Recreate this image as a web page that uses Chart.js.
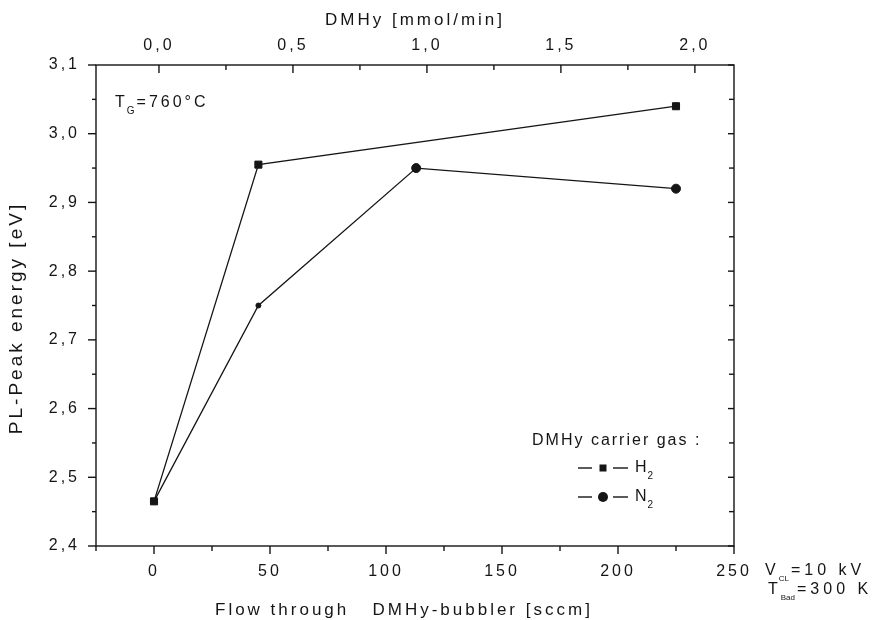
<!DOCTYPE html>
<html>
<head>
<meta charset="utf-8">
<script src="https://cdn.jsdelivr.net/npm/chart.js@4"></script>
<style>
  html, body { margin: 0; padding: 0; background: #fff; }
</style>
</head>
<body>
<canvas id="plChart" width="877" height="620"></canvas>
<script>
// PL peak energy vs DMHy bubbler flow, two carrier gases
const flowH2 = [0, 45, 225];
const peakH2 = [2.465, 2.955, 3.04];
const flowN2 = [0, 45, 113, 225];
const peakN2 = [2.465, 2.75, 2.95, 2.92];

const flowTicks = [0, 50, 100, 150, 200, 250];
const dmhyTicks = [0, 0.5, 1.0, 1.5, 2.0];
const peakTicks = [2.4, 2.5, 2.6, 2.7, 2.8, 2.9, 3.0, 3.1];

const FONT = "'Liberation Sans', Arial, sans-serif";
const INK = '#151515';
const comma = v => Number(v).toFixed(1).replace('.', ',');

function line(ctx, x1, y1, x2, y2) {
  ctx.beginPath(); ctx.moveTo(x1, y1); ctx.lineTo(x2, y2); ctx.stroke();
}

// chrome sometimes skips a letterSpacing write after restore(), so force it
function spacing(ctx, s) {
  ctx.letterSpacing = '0.5px';
  ctx.letterSpacing = s;
}

function subText(ctx, x, y, base, sub, rest, size, subSize, sp) {
  ctx.textAlign = 'left'; ctx.textBaseline = 'middle';
  ctx.font = `${size}px ${FONT}`;
  spacing(ctx, sp);
  ctx.fillText(base, x, y);
  const w = ctx.measureText(base).width;
  ctx.font = `${subSize}px ${FONT}`;
  spacing(ctx, '0px');
  ctx.fillText(sub, x + w - 1, y + size * 0.5);
  const ws = ctx.measureText(sub).width;
  ctx.font = `${size}px ${FONT}`;
  spacing(ctx, sp);
  ctx.fillText(rest, x + w + ws + 1, y);
}

const frame = {
  id: 'frame',
  beforeDraw(chart) { spacing(chart.ctx, '3px'); },
  afterDraw(chart) {
    const ctx = chart.ctx;
    const { left, right, top, bottom } = chart.chartArea;
    const { x, x2, y } = chart.scales;
    ctx.save();
    ctx.strokeStyle = INK; ctx.fillStyle = INK; ctx.lineWidth = 1.4;
    ctx.strokeRect(left, top, right - left, bottom - top);

    // bottom axis: outward ticks
    flowTicks.forEach(v => { const p = x.getPixelForValue(v); line(ctx, p, bottom, p, bottom + 8); });
    [-25, 25, 75, 125, 175, 225].forEach(v => { const p = x.getPixelForValue(v); line(ctx, p, bottom, p, bottom + 5); });
    // top axis: inward ticks
    dmhyTicks.forEach(v => { const p = x2.getPixelForValue(v); line(ctx, p, top, p, top + 8); });
    dmhyTicks.slice(0, -1).forEach(v => { const p = x2.getPixelForValue(v + 0.25); line(ctx, p, top, p, top + 5); });
    // left axis: outward, right axis: inward
    peakTicks.forEach((v, i) => {
      const p = y.getPixelForValue(v);
      line(ctx, left - 8, p, left, p);
      line(ctx, right, p, right - 6, p);
      if (i < peakTicks.length - 1) {
        const m = y.getPixelForValue(v + 0.05);
        line(ctx, left - 4, m, left, m);
        line(ctx, right, m, right - 5, m);
      }
    });

    // axis titles
    ctx.textBaseline = 'middle';
    ctx.font = `17px ${FONT}`;
    spacing(ctx, '3px');
    ctx.textAlign = 'center';
    ctx.fillText('DMHy [mmol/min]', (left + right) / 2, 20);
    ctx.textAlign = 'left';
    ctx.fillText('Flow through   DMHy-bubbler [sccm]', 215, 610);
    ctx.save();
    ctx.translate(17, 318);
    ctx.rotate(-Math.PI / 2);
    ctx.font = `19px ${FONT}`;
    spacing(ctx, '3px');
    ctx.textAlign = 'center';
    ctx.fillText('PL-Peak energy [eV]', 0, 0);
    ctx.restore();

    // notes
    subText(ctx, 115, 103, 'T', 'G', '=760°C', 16, 10, '3px');
    subText(ctx, 765, 571, 'V', 'CL', '=10 kV', 16, 8, '4px');
    subText(ctx, 768, 590, 'T', 'Bad', '=300 K', 16, 8, '4px');

    // legend
    ctx.font = `16px ${FONT}`;
    spacing(ctx, '2px');
    ctx.textAlign = 'left';
    ctx.fillText('DMHy carrier gas :', 532, 441);
    ctx.lineWidth = 1.4;
    line(ctx, 578, 468, 592, 468);
    line(ctx, 613, 468, 628, 468);
    ctx.fillRect(599.5, 464.5, 7, 7);
    subText(ctx, 635, 468, 'H', '2', '', 16, 10, '2px');
    line(ctx, 578, 497, 592, 497);
    line(ctx, 613, 497, 628, 497);
    ctx.beginPath(); ctx.arc(603, 497, 5, 0, Math.PI * 2); ctx.fill();
    subText(ctx, 635, 497, 'N', '2', '', 16, 10, '2px');
    ctx.restore();
  }
};

const tickFont = { family: FONT, size: 16 };

new Chart(document.getElementById('plChart').getContext('2d'), {
  type: 'scatter',
  data: {
    datasets: [
      {
        label: 'H2',
        data: flowH2.map((f, i) => ({ x: f, y: peakH2[i] })),
        showLine: true, borderColor: INK, borderWidth: 1.3,
        pointStyle: 'rect', pointRadius: 5, pointBorderWidth: 1,
        backgroundColor: INK, pointBorderColor: INK, order: 0
      },
      {
        label: 'N2',
        data: flowN2.map((f, i) => ({ x: f, y: peakN2[i] })),
        showLine: true, borderColor: INK, borderWidth: 1.3,
        pointStyle: 'circle', pointRadius: [2.5, 2.5, 4.5, 4.5], pointBorderWidth: 1,
        backgroundColor: INK, pointBorderColor: INK, order: 1
      }
    ]
  },
  options: {
    responsive: false, animation: false, devicePixelRatio: 1,
    layout: { padding: { right: 143 } },
    plugins: { legend: { display: false }, tooltip: { enabled: false } },
    scales: {
      x: {
        type: 'linear', position: 'bottom', min: -25, max: 250,
        afterBuildTicks: s => { s.ticks = flowTicks.map(v => ({ value: v })); },
        afterFit: s => { s.height = 74; },
        grid: { display: false, drawTicks: false }, border: { display: false },
        ticks: { font: tickFont, color: INK, padding: 16, maxRotation: 0, autoSkip: false }
      },
      x2: {
        type: 'linear', position: 'top', min: -0.235, max: 2.146,
        afterBuildTicks: s => { s.ticks = dmhyTicks.map(v => ({ value: v })); },
        afterFit: s => { s.height = 65; },
        grid: { display: false, drawTicks: false }, border: { display: false },
        ticks: { font: tickFont, color: INK, padding: 10, maxRotation: 0, autoSkip: false, callback: comma }
      },
      y: {
        type: 'linear', position: 'left', min: 2.4, max: 3.1,
        afterBuildTicks: s => { s.ticks = peakTicks.map(v => ({ value: v })); },
        afterFit: s => { s.width = 96; },
        grid: { display: false, drawTicks: false }, border: { display: false },
        ticks: { font: tickFont, color: INK, padding: 16, autoSkip: false, callback: comma }
      }
    }
  },
  plugins: [frame]
});
</script>
</body>
</html>
